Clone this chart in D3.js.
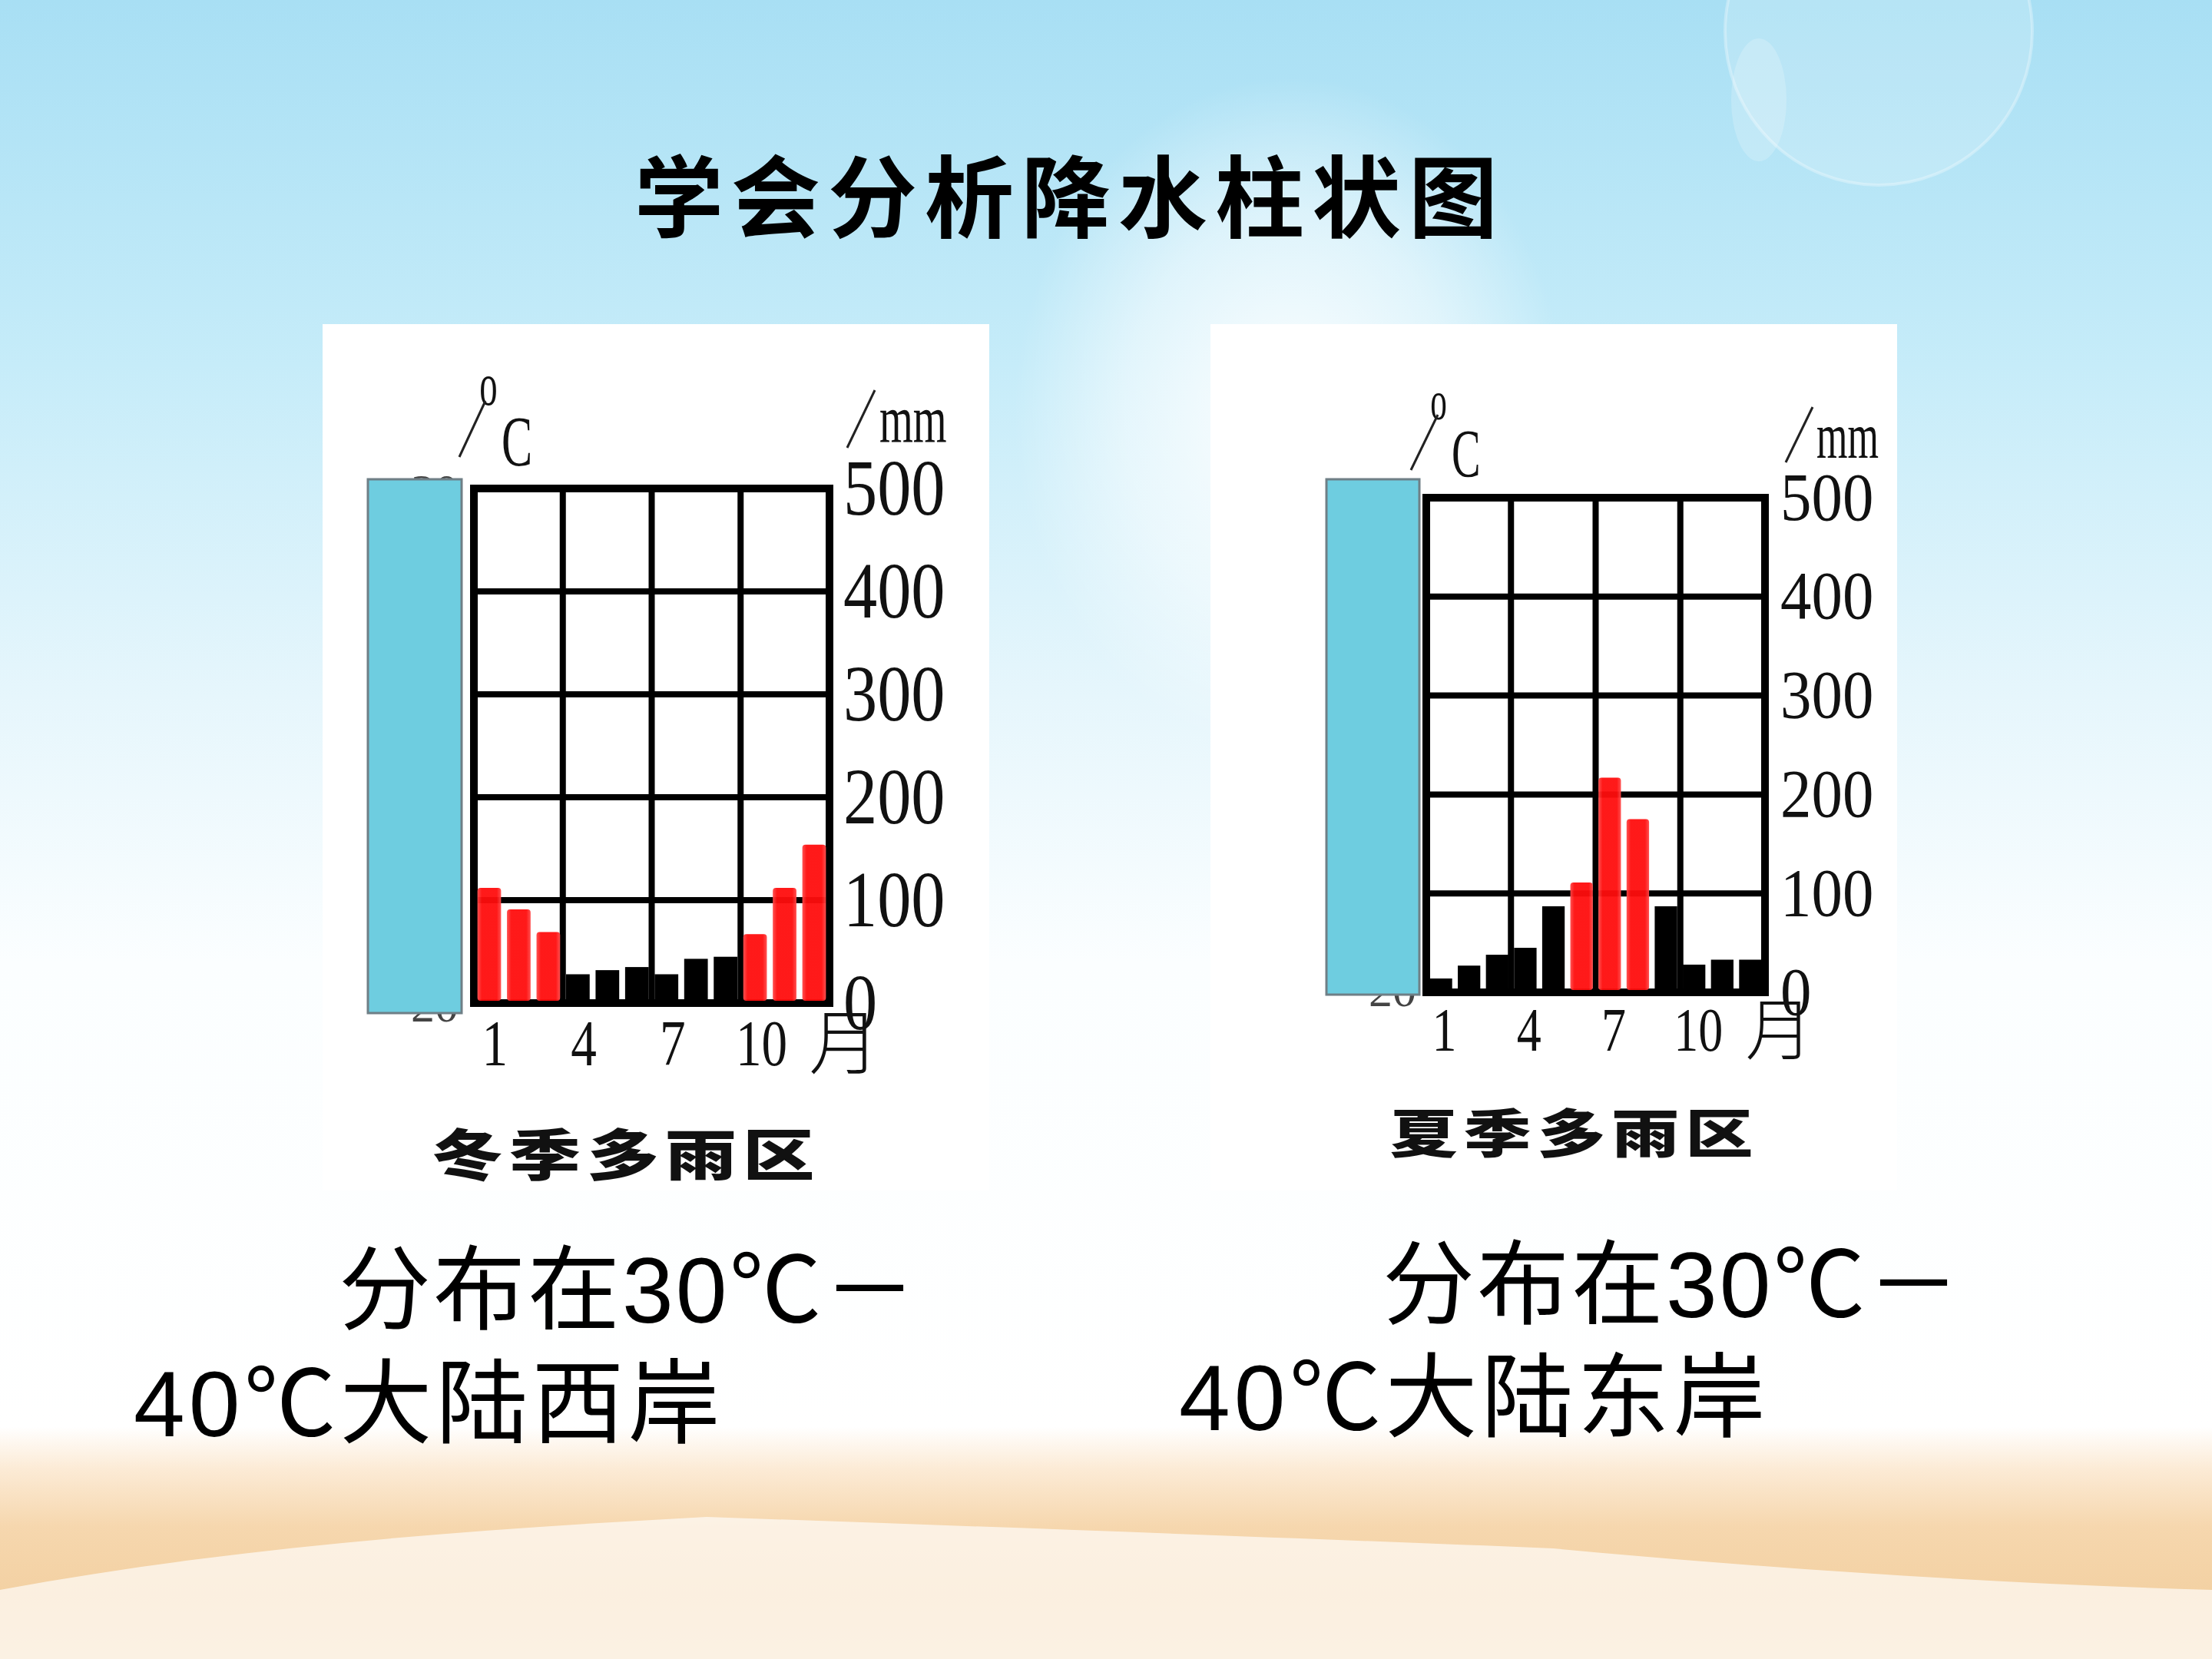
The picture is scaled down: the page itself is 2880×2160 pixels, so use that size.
<!DOCTYPE html>
<html>
<head>
<meta charset="utf-8">
<script src="https://cdn.jsdelivr.net/npm/d3@7"></script>
<style>
  body { margin: 0; background: #fff; }
  svg { display: block; }
</style>
</head>
<body>
<script>
// precipitation bar charts (mm per month)
const months = d3.range(1, 13)
const monthTicks = [1, 4, 7, 10]
const precipTicks = [0, 100, 200, 300, 400, 500]
const tempTicks = [30, 20, 10, 0, -10, -20]
const winterRain = [112, 91, 69, 28, 32, 35, 28, 43, 45, 67, 112, 154]
const summerRain = [14, 27, 38, 45, 87, 111, 217, 175, 87, 28, 33, 33]
const winterWet = [1, 2, 3, 10, 11, 12]
const summerWet = [6, 7, 8]
const chartNames = ['冬季多雨区', '夏季多雨区']
const pageTitle = '学会分析降水柱状图'
const captionLine1 = ['分布在30℃－', '分布在30℃－']
const captionLine2 = ['40℃大陆西岸', '40℃大陆东岸']

const W = 2880, H = 2160
const serif = "'Liberation Serif', 'DejaVu Serif', serif"
const cjk = "'Noto Sans CJK SC', 'Noto Sans', sans-serif"

const svg = d3.select('body').append('svg').attr('width', W).attr('height', H)
const defs = svg.append('defs')

// ---- background
const sky = defs.append('linearGradient').attr('id', 'sky').attr('x1', 0).attr('y1', 0).attr('x2', 0).attr('y2', 1)
;[[0, '#a8dff4'], [0.22, '#c6ecf9'], [0.42, '#e6f6fc'], [0.58, '#fbfeff'], [0.86, '#ffffff'],
  [0.885, '#fcebd6'], [0.92, '#f6d7ae'], [0.96, '#f3d1a3'], [1, '#f4d6ad']]
  .forEach(([o, c]) => sky.append('stop').attr('offset', o).attr('stop-color', c))
svg.append('rect').attr('width', W).attr('height', H).attr('fill', 'url(#sky)')

const glow = defs.append('radialGradient').attr('id', 'glow')
glow.append('stop').attr('offset', 0).attr('stop-color', '#fff').attr('stop-opacity', 0.95)
glow.append('stop').attr('offset', 0.6).attr('stop-color', '#fff').attr('stop-opacity', 0.5)
glow.append('stop').attr('offset', 1).attr('stop-color', '#fff').attr('stop-opacity', 0)
svg.append('ellipse').attr('cx', 1680).attr('cy', 540).attr('rx', 360).attr('ry', 440).attr('fill', 'url(#glow)')

// bokeh circle top right
svg.append('circle').attr('cx', 2446).attr('cy', 41).attr('r', 200)
  .attr('fill', '#fff').attr('fill-opacity', 0.16).attr('stroke', '#fff').attr('stroke-opacity', 0.3).attr('stroke-width', 4)
svg.append('ellipse').attr('cx', 2290).attr('cy', 130).attr('rx', 36).attr('ry', 80)
  .attr('fill', '#fff').attr('fill-opacity', 0.2)

// white dune at the bottom
svg.append('path')
  .attr('d', 'M0,2070 C300,2015 600,1992 920,1975 C1300,1988 1700,2003 2022,2016 C2300,2042 2600,2062 2880,2070 L2880,2160 L0,2160 Z')
  .attr('fill', '#fff').attr('fill-opacity', 0.66)

// red bar gradient
const redG = defs.append('linearGradient').attr('id', 'redbar').attr('x1', 0).attr('x2', 1).attr('y1', 0).attr('y2', 0)
;[[0, '#ff4848'], [0.18, '#ff0d0d'], [0.82, '#ff0d0d'], [1, '#ff4848']]
  .forEach(([o, c]) => redG.append('stop').attr('offset', o).attr('stop-color', c))

// ---- title
svg.append('text').text(pageTitle)
  .attr('x', 1393).attr('y', 300).attr('text-anchor', 'middle')
  .attr('font-family', cjk).attr('font-weight', 700).attr('font-size', 116)
  .attr('letter-spacing', 10).attr('fill', '#000')

function stext(g, str, x, y, size, sx, family) {
  return g.append('text').text(str)
    .attr('transform', `translate(${x},${y}) scale(${sx},1)`)
    .attr('font-family', family || serif).attr('font-size', size).attr('fill', '#111')
}

const layouts = [
  { panel: [420, 422, 868, 1128], x0: 617, x1: 1080, y0: 636, y1: 1306,
    rect: [479, 624, 122, 695], temp: [1310, 640],
    tick: { size: 104, sx: 0.85, pad: 18 }, month: { size: 84, sx: 0.8, y: 1387, yue: 92, dx: 8 },
    deg: { o: [636, 527, 78], sl: [598, 595, 632, 522], c: [653, 606, 94] },
    mm: { sl: [1103, 583, 1139, 508], t: [1145, 576, 88, 0.64] },
    name: [811, 1530, 72, 6] },
  { panel: [1576, 422, 894, 1128], x0: 1857, x1: 2298, y0: 648, y1: 1292,
    rect: [1727, 624, 121, 671], temp: [1290, 660],
    tick: { size: 88, sx: 0.92, pad: 20 }, month: { size: 80, sx: 0.8, y: 1368, yue: 88, dx: 5 },
    deg: { o: [1873, 546, 72], sl: [1837, 612, 1872, 540], c: [1890, 620, 88] },
    mm: { sl: [2325, 602, 2360, 530], t: [2365, 596, 84, 0.62] },
    name: [2046, 1501, 68, 6] }
]

function drawChart(L, rain, wet, name) {
  const g = svg.append('g')
  g.append('rect').attr('x', L.panel[0]).attr('y', L.panel[1]).attr('width', L.panel[2]).attr('height', L.panel[3]).attr('fill', '#fff')

  const x = d3.scaleBand().domain(months).range([L.x0, L.x1]).paddingInner(0.2).paddingOuter(0.12)
  const xm = d3.scaleLinear().domain([0.5, 12.5]).range([L.x0, L.x1])
  const y = d3.scaleLinear().domain([0, 500]).range([L.y1, L.y0])

  // temperature axis, mostly hidden behind the blue box
  const t = d3.scaleLinear().domain([-20, 30]).range(L.temp)
  const ta = g.append('g').attr('transform', `translate(${L.rect[0] + L.rect[2] - 4},0)`)
    .call(d3.axisLeft(t).tickValues(tempTicks).tickSize(0).tickPadding(0))
  ta.select('.domain').remove()
  ta.selectAll('text').attr('font-family', serif).attr('font-size', 62).attr('fill', '#444')

  // grid
  precipTicks.forEach(v => {
    const outer = v === 0 || v === 500
    g.append('line').attr('x1', L.x0).attr('x2', L.x1).attr('y1', y(v)).attr('y2', y(v))
      .attr('stroke', '#000').attr('stroke-width', outer ? 10 : 8).attr('stroke-linecap', 'square')
  })
  ;[0.5, 3.5, 6.5, 9.5, 12.5].forEach(m => {
    const outer = m === 0.5 || m === 12.5
    g.append('line').attr('x1', xm(m)).attr('x2', xm(m)).attr('y1', L.y0).attr('y2', L.y1)
      .attr('stroke', '#000').attr('stroke-width', outer ? 10 : 8).attr('stroke-linecap', 'square')
  })

  // bars
  g.selectAll('.bar').data(months).join('rect').attr('class', 'bar')
    .attr('x', m => x(m)).attr('width', x.bandwidth())
    .attr('y', m => y(rain[m - 1])).attr('height', m => y(0) - y(rain[m - 1]) - 3)
    .attr('rx', m => wet.includes(m) ? 4 : 0)
    .attr('fill', m => wet.includes(m) ? 'url(#redbar)' : '#000')
    .attr('fill-opacity', m => wet.includes(m) ? 0.95 : 1)

  // blue box over the temperature axis
  g.append('rect').attr('x', L.rect[0]).attr('y', L.rect[1]).attr('width', L.rect[2]).attr('height', L.rect[3])
    .attr('fill', '#6ecde0').attr('stroke', '#6f7f86').attr('stroke-width', 3)

  // precipitation axis on the right
  const ax = g.append('g').attr('transform', `translate(${L.x1},0)`)
    .call(d3.axisRight(y).tickValues(precipTicks).tickSize(0).tickPadding(L.tick.pad))
  ax.select('.domain').remove()
  ax.selectAll('text')
    .attr('x', L.tick.pad / L.tick.sx).attr('transform', `scale(${L.tick.sx},1)`)
    .attr('font-family', serif).attr('font-size', L.tick.size).attr('fill', '#111')

  // month labels
  monthTicks.forEach(m => {
    stext(g, String(m), xm(m) + L.month.dx, L.month.y, L.month.size, L.month.sx).attr('text-anchor', 'middle')
  })
  stext(g, '月', xm(13), L.month.y + 4, L.month.yue, 1, cjk).attr('text-anchor', 'middle').attr('font-weight', 300)

  // units
  stext(g, 'o', L.deg.o[0], L.deg.o[1], L.deg.o[2], 0.6).attr('text-anchor', 'middle')
  g.append('line').attr('x1', L.deg.sl[0]).attr('y1', L.deg.sl[1]).attr('x2', L.deg.sl[2]).attr('y2', L.deg.sl[3])
    .attr('stroke', '#222').attr('stroke-width', 3)
  stext(g, 'C', L.deg.c[0], L.deg.c[1], L.deg.c[2], 0.64)
  g.append('line').attr('x1', L.mm.sl[0]).attr('y1', L.mm.sl[1]).attr('x2', L.mm.sl[2]).attr('y2', L.mm.sl[3])
    .attr('stroke', '#222').attr('stroke-width', 3)
  stext(g, 'mm', L.mm.t[0], L.mm.t[1], L.mm.t[2], L.mm.t[3])

  // chart name, wide heavy glyphs
  g.append('text').text(name)
    .attr('transform', `translate(${L.name[0]},${L.name[1]}) scale(1.3,1)`)
    .attr('text-anchor', 'middle').attr('dx', L.name[3] / 2)
    .attr('font-family', cjk).attr('font-weight', 900).attr('font-size', L.name[2])
    .attr('letter-spacing', L.name[3]).attr('fill', '#111')
}

drawChart(layouts[0], winterRain, winterWet, chartNames[0])
drawChart(layouts[1], summerRain, summerWet, chartNames[1])

// captions below the charts
const capFont = "'Liberation Sans', 'Noto Sans CJK SC', sans-serif"
const capPos = [[441, 1722, 174, 1870], [1800, 1715, 1535, 1862]]
capPos.forEach((p, i) => {
  svg.append('text').text(captionLine1[i]).attr('x', p[0]).attr('y', p[1])
    .attr('font-family', capFont).attr('font-size', 120).attr('letter-spacing', 3).attr('fill', '#000')
  svg.append('text').text(captionLine2[i]).attr('x', p[2]).attr('y', p[3])
    .attr('font-family', capFont).attr('font-size', 120).attr('letter-spacing', 5).attr('fill', '#000')
})
</script>
</body>
</html>
